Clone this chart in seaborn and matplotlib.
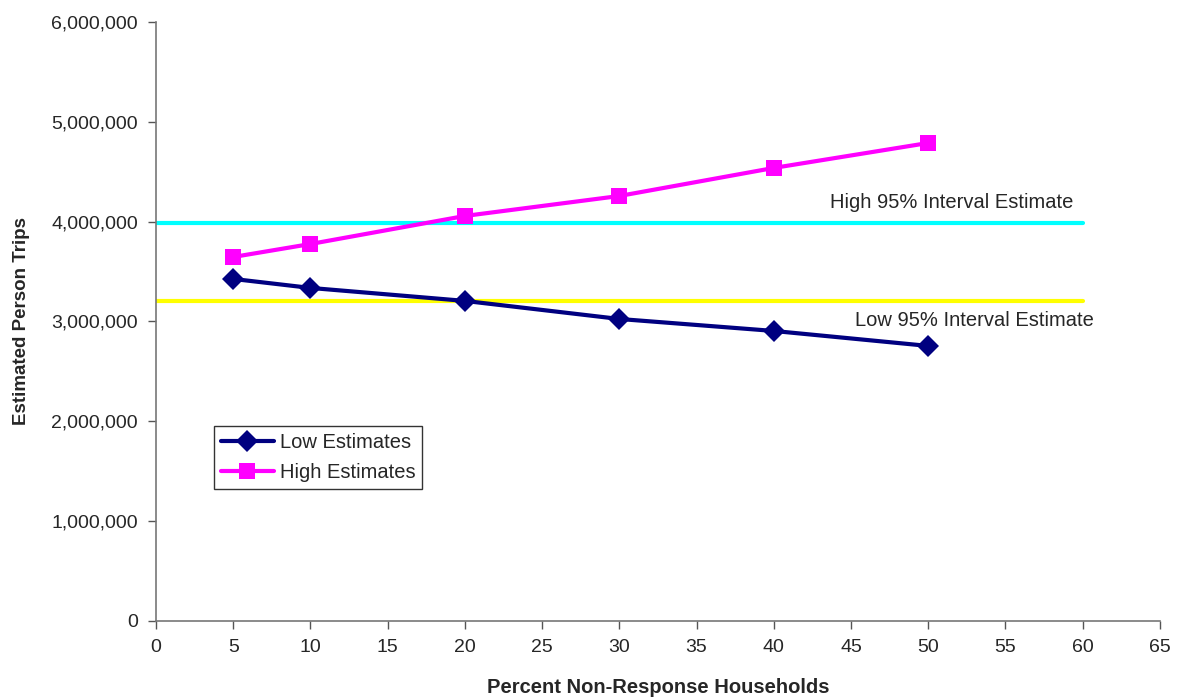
import numpy as np
import pandas as pd
import matplotlib
matplotlib.use("Agg")
import matplotlib.pyplot as plt
import seaborn as sns
from matplotlib.ticker import FuncFormatter

# datos
pct_nonresp = [5, 10, 20, 30, 40, 50]
low_est = [3426000, 3336000, 3206000, 3025000, 2905000, 2755000]
high_est = [3646000, 3776000, 4057000, 4257000, 4538000, 4788000]
high_ci = 3990000
low_ci = 3210000
ci_x = [0, 60]

df = pd.DataFrame({
    "pct": pct_nonresp * 2,
    "trips": low_est + high_est,
    "serie": ["Low Estimates"] * 6 + ["High Estimates"] * 6,
})

sns.set_style("white")
plt.rcParams['font.family'] = ['Liberation Sans', 'DejaVu Sans']

fig = plt.figure(figsize=(11.8, 7), dpi=100)
ax = fig.add_axes([0.1322, 0.1129, 0.8508, 0.8557])

# lineas de intervalo
ax.plot(ci_x, [high_ci, high_ci], color="#00FFFF", lw=3, zorder=1)
ax.plot(ci_x, [low_ci, low_ci], color="#FFFF00", lw=3, zorder=1)

sns.lineplot(data=df, x="pct", y="trips", hue="serie", style="serie",
             palette={"Low Estimates": "#000080", "High Estimates": "#FF00FF"},
             markers={"Low Estimates": "D", "High Estimates": "s"},
             dashes=False, lw=3, markersize=11, markeredgewidth=0,
             ax=ax, zorder=3)

ax.text(59.4, high_ci + 110000, "High 95% Interval Estimate", ha="right",
        va="bottom", fontsize=14.5)
ax.text(60.7, low_ci - 110000, "Low 95% Interval Estimate", ha="right",
        va="top", fontsize=14.5)

ax.set_xlim(0, 65)
ax.set_ylim(0, 6000000)
ax.set_xticks(range(0, 66, 5))
ax.set_yticks(range(0, 6000001, 1000000))
ax.yaxis.set_major_formatter(FuncFormatter(lambda v, p: f"{int(v):,}"))
ax.tick_params(axis="both", direction="out", length=6, width=1,
               color="#555555", labelsize=14, pad=7, bottom=True, left=True)

for s in ["top", "right"]:
    ax.spines[s].set_visible(False)
for s in ["left", "bottom"]:
    ax.spines[s].set_color("#777777")
    ax.spines[s].set_linewidth(1.2)

ax.set_xlabel("Percent Non-Response Households", fontsize=14.5,
              fontweight="bold", labelpad=16)
ax.set_ylabel("Estimated Person Trips", fontsize=13.5, fontweight="bold",
              labelpad=15)

leg = ax.legend(loc="upper left", bbox_to_anchor=(0.058, 0.325), fontsize=14.5,
                frameon=True, fancybox=False, edgecolor="black",
                handlelength=2.6, handletextpad=0.3, borderpad=0.35,
                labelspacing=0.55, borderaxespad=0)
leg.get_frame().set_linewidth(1)

plt.savefig("out.png", dpi=100)
